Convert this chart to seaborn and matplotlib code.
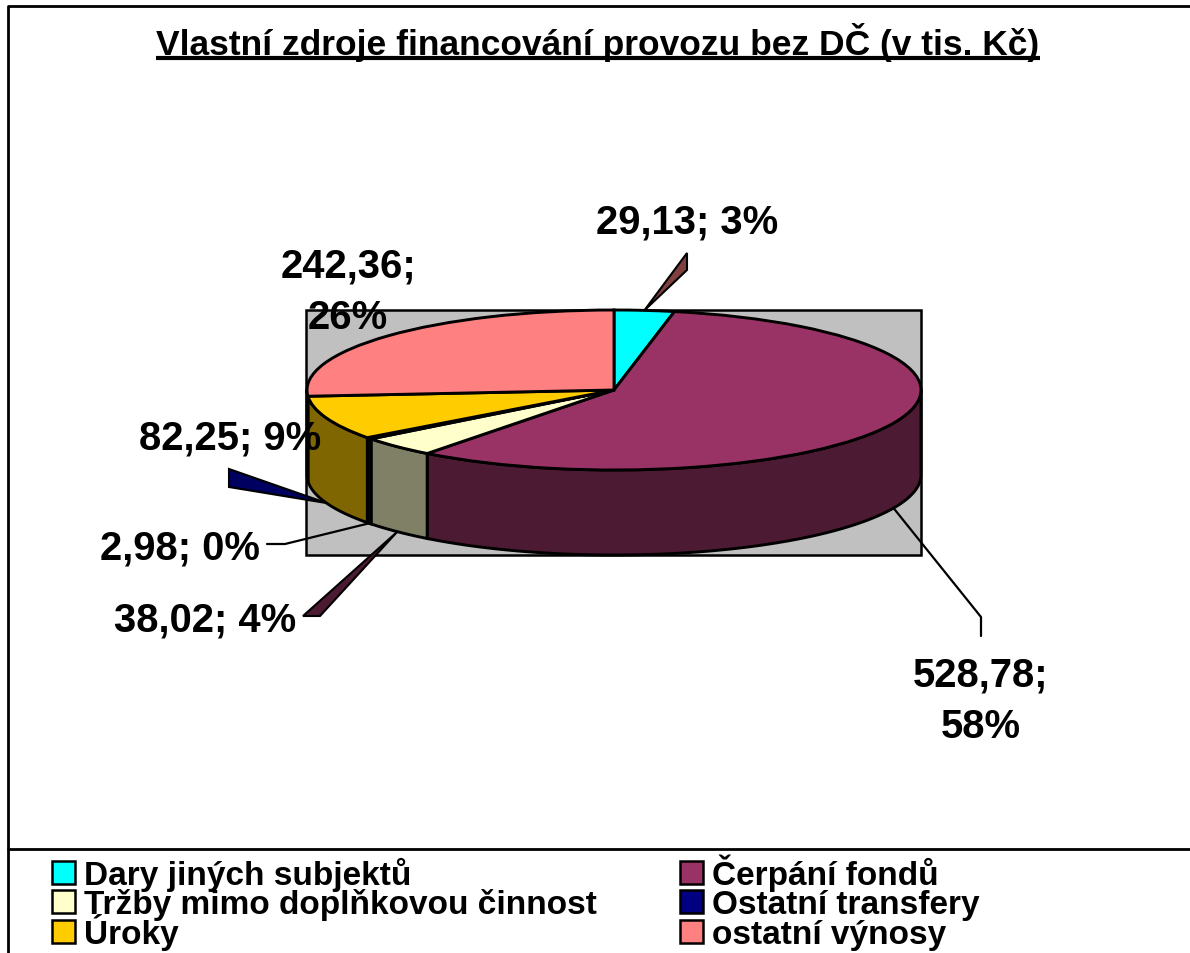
# Vlastni zdroje financovani - 3D look pie

import numpy as np
import seaborn as sns
import matplotlib.pyplot as plt
from matplotlib.patches import Polygon, Rectangle

categories = ["Dary jiných subjektů", "Čerpání fondů", "Tržby mimo doplňkovou činnost",
              "Ostatní transfery", "Úroky", "ostatní výnosy"]
values = [29.13, 528.78, 38.02, 2.98, 82.25, 242.36]
percents = [3, 58, 4, 0, 9, 26]
top_colors = ["#00FFFF", "#993366", "#FFFFCC", "#000080", "#FFCC00", "#FF8080"]
side_colors = ["#008080", "#4D1A33", "#808066", "#000040", "#806600", "#804040"]

sns.set_theme(style="white")
plt.rcParams['font.family'] = ['Liberation Sans', 'DejaVu Sans']
plt.rcParams['font.weight'] = 'bold'

W, H = 1190, 954
CX, CY, RX, RY, DEPTH = 614, 391, 307, 80, 85

# pixel position -> pie units
def X(px):
    return (px - CX) / RX

def Y(py):
    return (CY - py) / RY

fig = plt.figure(figsize=(W / 100, H / 100), dpi=100)
ax = fig.add_axes([0, 0, 1, 1])
wedges, _ = ax.pie(values, colors=sns.color_palette(top_colors), startangle=90, counterclock=False,
                   radius=1, wedgeprops=dict(edgecolor="black", linewidth=2.1, zorder=4))
ax.set_aspect("auto")
ax.set_xlim(X(0), X(W))
ax.set_ylim(Y(H), Y(0))
ax.axis("off")

# plot area and frame
ax.add_patch(Rectangle((X(306), Y(556)), X(921) - X(306), Y(311) - Y(556), facecolor="#C0C0C0",
                       edgecolor="black", linewidth=1.8, zorder=1))
ax.plot([X(8), X(8), X(W)], [Y(H), Y(7), Y(7)], color="black", lw=2, zorder=1)
ax.plot([X(8), X(W)], [Y(850), Y(850)], color="black", lw=2, zorder=1)

# side walls, only front half of the pie is visible
share = np.cumsum([0] + values) / sum(values) * 360
depth = DEPTH / RY
for i in range(len(values)):
    a, b = max(share[i], 90), min(share[i + 1], 270)
    if a >= b:
        continue
    t = np.radians(np.linspace(a, b, 80))
    xs = np.sin(t)
    ys = np.cos(t)
    pts = np.r_[np.c_[xs, ys], np.c_[xs, ys - depth][::-1]]
    ax.add_patch(Polygon(pts, facecolor=side_colors[i], edgecolor="black", linewidth=2.1, zorder=3))

# leader anchored at the middle of the slice on the rim
def rim(i):
    t = np.radians((share[i] + share[i + 1]) / 2)
    y = np.cos(t)
    return np.sin(t), y - depth if y < 0 else y

def leader(i, pts, color):
    x0, y0 = rim(i)
    xy = [(x0, y0)] + [(X(p[0]), Y(p[1])) for p in pts]
    ax.add_patch(Polygon(xy, facecolor=color, edgecolor="black", linewidth=1.5, zorder=5))

leader(0, [(687, 254), (687, 271)], "#804040")
leader(2, [(320, 617), (303, 617)], "#4D1A33")
leader(4, [(229, 488), (229, 470)], "#000060")

x0, y0 = rim(3)
ax.plot([x0, X(285), X(267)], [y0, Y(545), Y(545)], color="black", lw=1.6, zorder=5)
x0, y0 = rim(1)
ax.plot([x0, X(981), X(981)], [y0, Y(618), Y(637)], color="black", lw=1.6, zorder=5)

# data labels
def label(v, p):
    return f"{v:.2f}".replace(".", ",") + "; " + f"{p}%"

label_pos = [(687, 222), (981, 701), (205, 621), (180, 549), (230, 439), (348, 292)]
for i in range(len(values)):
    txt = label(values[i], percents[i])
    if i in (1, 5):
        txt = txt.replace("; ", ";\n")
    ax.text(X(label_pos[i][0]), Y(label_pos[i][1]), txt, fontsize=28.8, fontweight="bold", ha="center",
            va="center", color="black", linespacing=1.46, zorder=6)

# title with underline
title = ax.text(X(598), Y(42), "Vlastní zdroje financování provozu bez DČ (v tis. Kč)", fontsize=25.5,
                fontweight="bold", ha="center", va="center", color="black", zorder=6)
fig.canvas.draw()
box = title.get_window_extent()
ax.plot([X(box.x0), X(box.x1)], [Y(59), Y(59)], color="black", lw=3, zorder=6, solid_capstyle="butt")

# legend rows, column by column
order = [0, 2, 4, 1, 3, 5]
col_x = [52, 680]
row_y = [885, 914, 944]
for n, i in enumerate(order):
    cx = col_x[n // 3]
    by = row_y[n % 3]
    ax.add_patch(Rectangle((X(cx), Y(by)), X(cx + 23) - X(cx), Y(by - 23) - Y(by), facecolor=top_colors[i],
                           edgecolor="black", linewidth=1.8, zorder=6))
    ax.text(X(cx + 32), Y(by), categories[i], fontsize=24, fontweight="bold", color="black",
            ha="left", va="baseline", zorder=6)

plt.savefig("out.png", dpi=100)
